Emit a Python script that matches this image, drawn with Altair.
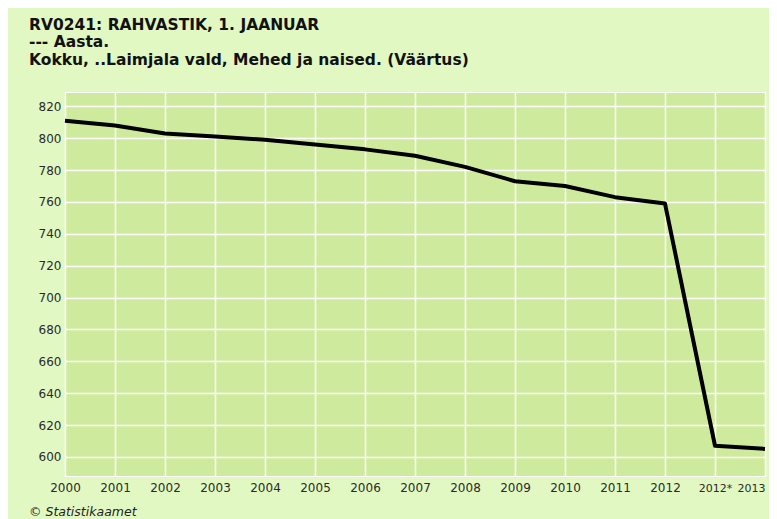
import altair as alt
import pandas as pd

years = ["2000", "2001", "2002", "2003", "2004", "2005", "2006", "2007",
         "2008", "2009", "2010", "2011", "2012", "2012*", "2013"]
values = [811, 808, 803, 801, 799, 796, 793, 789, 782, 773, 770, 763, 759, 607, 605]
y_ticks = [600, 620, 640, 660, 680, 700, 720, 740, 760, 780, 800, 820]

title_lines = ["RV0241: RAHVASTIK, 1. JAANUAR", "--- Aasta.",
               "Kokku, ..Laimjala vald, Mehed ja naised. (Väärtus)"]
footer = "© Statistikaamet"

df = pd.DataFrame({"year": years, "value": values})

W, H = 700, 384

base = alt.Chart(df)

line = base.mark_line(color="black", strokeWidth=4, strokeJoin="round").encode(
    x=alt.X("year:O", sort=years,
            scale=alt.Scale(type="point", padding=0),
            axis=alt.Axis(title=None, labelAngle=0, ticks=False, domain=False,
                          grid=True, gridColor="white", gridWidth=1.5,
                          labelFont="DejaVu Sans",
                          labelFontSize={"expr": "(datum.value === '2013' || datum.value === '2012*') ? 11 : 12"},
                          labelColor="#2a2a2a", labelPadding=6,
                          labelAlign={"expr": "datum.value === '2013' ? 'right' : 'center'"},
                          labelOverlap=False)),
    y=alt.Y("value:Q",
            scale=alt.Scale(domain=[588, 829], nice=False, zero=False),
            axis=alt.Axis(title=None, values=y_ticks, ticks=False, domain=False,
                          grid=True, gridColor="white", gridWidth=1.5,
                          labelFont="DejaVu Sans", labelFontSize=12,
                          labelColor="#2a2a2a", labelPadding=4)),
)

foot = alt.Chart(pd.DataFrame({"t": [footer]})).mark_text(
    align="left", baseline="alphabetic", font="DejaVu Sans", fontSize=12.5,
    fontStyle="italic", color="#222222"
).encode(x=alt.value(-36), y=alt.value(H + 40), text="t:N")

chart = alt.layer(line, foot).properties(
    width=W, height=H,
    background="#E2F8C3",
    padding={"left": 57, "top": 84, "right": 4, "bottom": 43},
    autosize=alt.AutoSizeParams(type="none"),
    title=alt.TitleParams(
        text=title_lines, anchor="start", frame="group", dx=-36, offset=24,
        font="DejaVu Sans", fontSize=15.5, fontWeight="bold", color="#111111",
        lineHeight=17.5,
    ),
).configure_view(fill="#CEEB9D", stroke="white", strokeWidth=1)

chart.save("out.html", embed_options={"renderer": "svg", "actions": False})
